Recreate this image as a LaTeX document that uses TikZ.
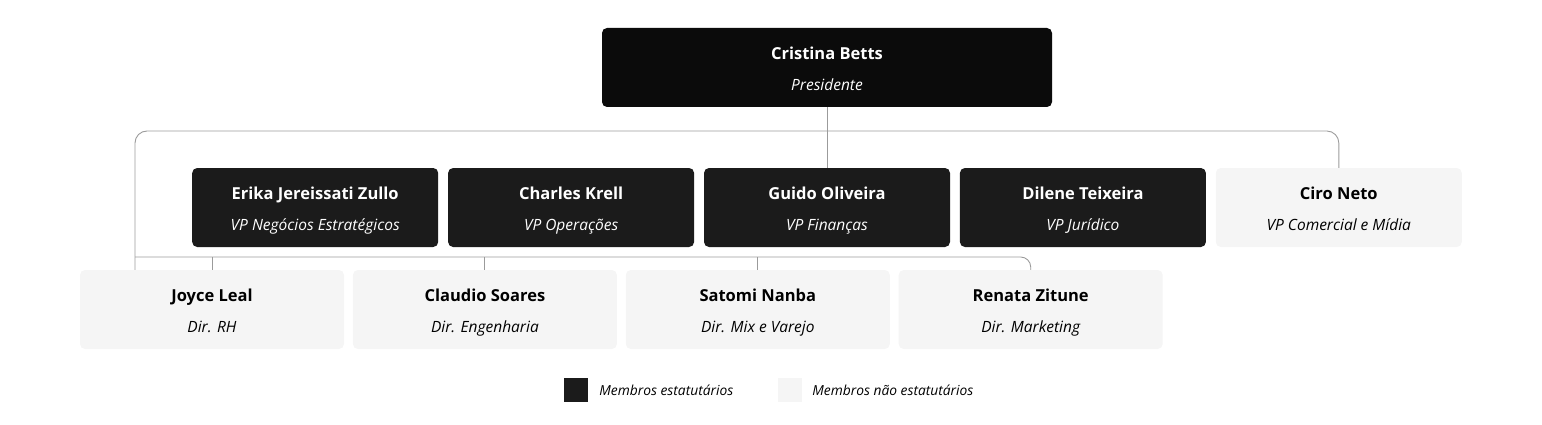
\documentclass[tikz,border=0pt]{standalone}
\usepackage{fontspec}
\setmainfont{Open Sans}
\usetikzlibrary{positioning}

\definecolor{boardblack}{HTML}{1B1B1B}
\definecolor{topblack}{HTML}{0B0B0B}
\definecolor{boardgray}{HTML}{F5F5F5}
\definecolor{linegray}{HTML}{9B9B9B}

\newcommand{\orgentry}[2]{{\bfseries\rule{0pt}{19pt}#1\vphantom{Ájgp}}\\[12pt]{\itshape\fontsize{15.5}{18}\selectfont #2\vphantom{Ájgp}}}

\begin{document}
\begin{tikzpicture}[x=1pt, y=1pt, node distance=9.5pt,
    member/.style={rounded corners=5pt, minimum height=79pt, align=center, inner sep=0pt, font=\fontsize{16.5}{19}\selectfont},
    statut/.style={member, fill=boardblack, text=white},
    nonstat/.style={member, fill=boardgray, text=black},
    link/.style={draw=linegray, line width=0.9pt},
    legbox/.style={minimum size=24pt, inner sep=0pt},
    legtext/.style={font=\fontsize{13.8}{16}\selectfont\itshape, inner sep=0pt}]
        \useasboundingbox (0,0) rectangle (1542,-425);

        % Nodes
        \node[statut, fill=topblack, minimum width=450pt] (betts) at (827,-67.5) {\orgentry{Cristina Betts}{Presidente}};

        \node[statut, minimum width=246pt] (oliveira) at (827,-207.5) {\orgentry{Guido Oliveira}{VP Finanças}};
        \node[statut, minimum width=246pt, left=of oliveira] (krell) {\orgentry{Charles Krell}{VP Operações}};
        \node[statut, minimum width=246pt, left=of krell] (zullo) {\orgentry{Erika Jereissati Zullo}{VP Negócios Estratégicos}};
        \node[statut, minimum width=246pt, right=of oliveira] (teixeira) {\orgentry{Dilene Teixeira}{VP Jurídico}};
        \node[nonstat, minimum width=246pt, right=of teixeira] (neto) {\orgentry{Ciro Neto}{VP Comercial e Mídia}};

        \node[nonstat, minimum width=264pt] (leal) at (212,-309.5) {\orgentry{Joyce Leal}{Dir. RH}};
        \node[nonstat, minimum width=264pt, right=8.5pt of leal] (soares) {\orgentry{Claudio Soares}{Dir. Engenharia}};
        \node[nonstat, minimum width=264pt, right=8.5pt of soares] (nanba) {\orgentry{Satomi Nanba}{Dir. Mix e Varejo}};
        \node[nonstat, minimum width=264pt, right=8.5pt of nanba] (zitune) {\orgentry{Renata Zitune}{Dir. Marketing}};

        \coordinate (vpbus) at (135,-131);
        \coordinate (dirbus) at (135,-257);

        % Edges
        \draw[link] (betts.south) -- (oliveira.north);
        \draw[link, rounded corners=12pt] (neto.north) |- (vpbus) -- (vpbus |- leal.north);
        \draw[link, rounded corners=10pt] (dirbus) -| (zitune.north);
        \foreach \dir in {leal, soares, nanba}
            \draw[link] (\dir.north) -- (\dir.north |- dirbus);

        % Legend
        \node[legbox, fill=boardblack] (legstat) at (576,-390) {};
        \node[legtext, right=11pt of legstat] (legstattext) {Membros estatutários};
        \node[legbox, fill=boardgray] (legnon) at (790,-390) {};
        \node[legtext, right=10pt of legnon] (legnontext) {Membros não estatutários};
    \end{tikzpicture}
\end{document}
